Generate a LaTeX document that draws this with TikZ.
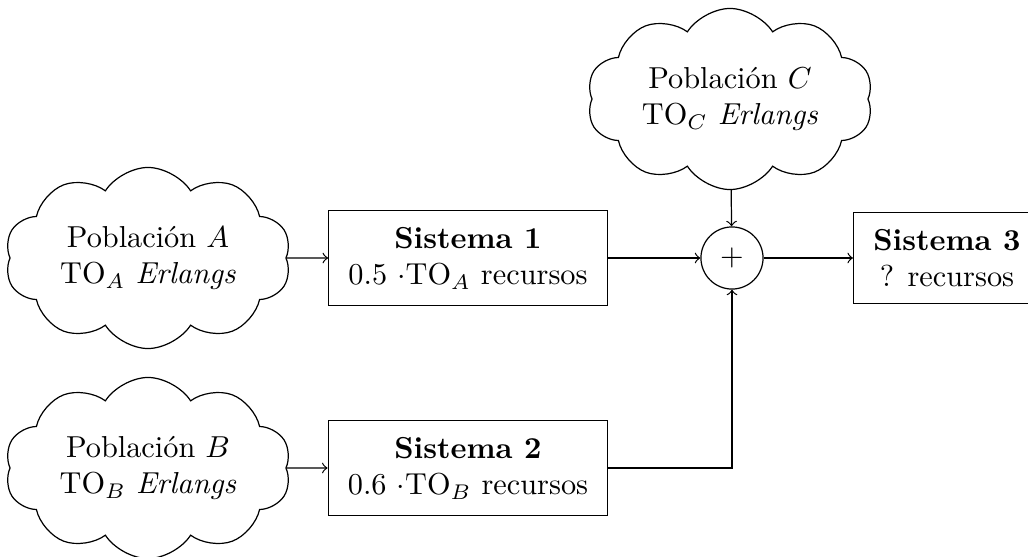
\documentclass[tikz,border=0pt]{standalone}
\usepackage{fontspec}
\usetikzlibrary{shapes.symbols}

\begin{document}
\begin{tikzpicture}[
    x=0.0116cm,
    y=-0.0116cm,
    pop/.style={draw, cloud, cloud puffs=10, cloud puff arc=115, cloud ignores aspect,
        align=center, minimum width=3.32cm, minimum height=2.1cm, inner sep=0pt},
    sys/.style={draw, rectangle, align=center, inner xsep=6.5pt, inner ysep=5.5pt},
    sum/.style={draw, circle, minimum size=0.72cm, inner sep=0pt},
    e/.style={draw, ->},
]
    \clip (0, 0) rectangle (1028, 557);

    \node[pop] (popA) at (148, 258) {Población $A$\\TO$_A$ \textit{Erlangs}};
    \node[pop] (popB) at (148, 468) {Población $B$\\TO$_B$ \textit{Erlangs}};
    \node[pop] (popC) at (730, 99) {Población $C$\\TO$_C$ \textit{Erlangs}};
    \node[sys] (sys1) at (468, 258) {\textbf{Sistema 1}\\0.5 $\cdot$TO$_A$ recursos};
    \node[sys] (sys2) at (468, 468) {\textbf{Sistema 2}\\0.6 $\cdot$TO$_B$ recursos};
    \node[sum] (sum) at (732, 258) {$+$};
    \node[sys, anchor=west] (sys3) at (853, 258) {\textbf{Sistema 3}\\? recursos};

    \path[e] (popA) edge (sys1);
    \path[e] (popB) edge (sys2);
    \path[e] (sys1) edge (sum);
    \path[e] (popC) edge (sum);
    \draw[e] (sys2) -| (sum);
    \path[e] (sum) edge (sys3);
\end{tikzpicture}
\end{document}
